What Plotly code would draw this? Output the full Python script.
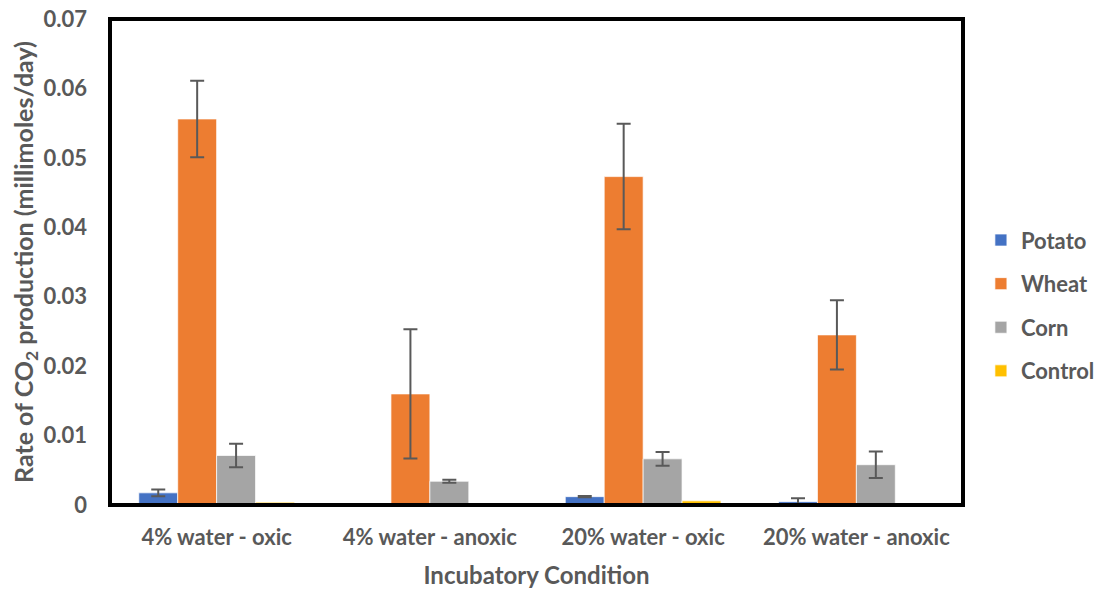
import plotly.graph_objects as go

categories = ["4% water - oxic", "4% water - anoxic", "20% water - oxic", "20% water - anoxic"]
series_names = ["Potato", "Wheat", "Corn", "Control"]
potato = [0.00175, 0.0, 0.0012, 0.00048]
potato_err = [0.0005, 0.0, 0.0001, 0.0005]
wheat = [0.0556, 0.0160, 0.0473, 0.0245]
wheat_err = [0.0055, 0.0093, 0.0076, 0.0050]
corn = [0.00713, 0.00342, 0.00665, 0.0058]
corn_err = [0.0017, 0.0002, 0.0010, 0.0019]
control = [0.0004, 0.0, 0.0006, 0.0]
control_err = [0.0, 0.0, 0.0, 0.0]
colors = ["#4472C4", "#ED7D31", "#A5A5A5", "#FFC000"]
y_ticks = [0, 0.01, 0.02, 0.03, 0.04, 0.05, 0.06, 0.07]
y_ticklabels = ["0", "0.01", "0.02", "0.03", "0.04", "0.05", "0.06", "0.07"]

values = [potato, wheat, corn, control]
errors = [potato_err, wheat_err, corn_err, control_err]

FONT = "Lato"
TXT = "#595959"

fig = go.Figure()
for name, vals, errs, col in zip(series_names, values, errors, colors):
    fig.add_trace(go.Bar(
        name=name, x=categories, y=vals, legendgroup=name,
        marker=dict(color=col, line=dict(color="white", width=0.7)),
        error_y=dict(type="data", array=errs, visible=(name != "Control"),
                     color="#595959", thickness=2, width=7),
    ))

fig.update_layout(
    barmode="group",
    bargap=0.27,
    bargroupgap=0.0,
    width=1095, height=584,
    margin=dict(l=102, r=140, t=11, b=87, autoexpand=False),
    paper_bgcolor="white", plot_bgcolor="white",
    font=dict(family=FONT, color=TXT, size=20),
    showlegend=True,
    legend=dict(x=1.021, y=0.41, xanchor="left", yanchor="middle",
                font=dict(family=FONT, size=22, color=TXT, weight="bold"),
                tracegroupgap=12, itemwidth=30, traceorder="grouped"),
    xaxis=dict(
        title=dict(text="Incubatory Condition", font=dict(family=FONT, size=24, color=TXT, weight="bold"), standoff=18),
        tickfont=dict(family=FONT, size=22, color=TXT, weight="bold"),
        ticklabelstandoff=12,
        showline=True, linecolor="#D9D9D9", linewidth=1.5,
        ticks="", showgrid=False, automargin=False,
    ),
    yaxis=dict(
        title=dict(text="Rate of CO<sub>2</sub> production (millimoles/day)",
                   font=dict(family=FONT, size=25, color=TXT, weight="bold"), standoff=8),
        range=[0, 0.07],
        tickvals=y_ticks, ticktext=y_ticklabels,
        tickfont=dict(family=FONT, size=22, color=TXT, weight="bold"),
        ticklabelstandoff=22, ticklabeloverflow="allow",
        showgrid=False, zeroline=False, showline=False, ticks="", automargin=False,
    ),
)

fig.add_shape(type="rect", xref="paper", yref="paper", x0=0, x1=1, y0=0, y1=1,
              line=dict(color="black", width=4), fillcolor="rgba(0,0,0,0)", layer="above")

fig.write_html("out.html")
